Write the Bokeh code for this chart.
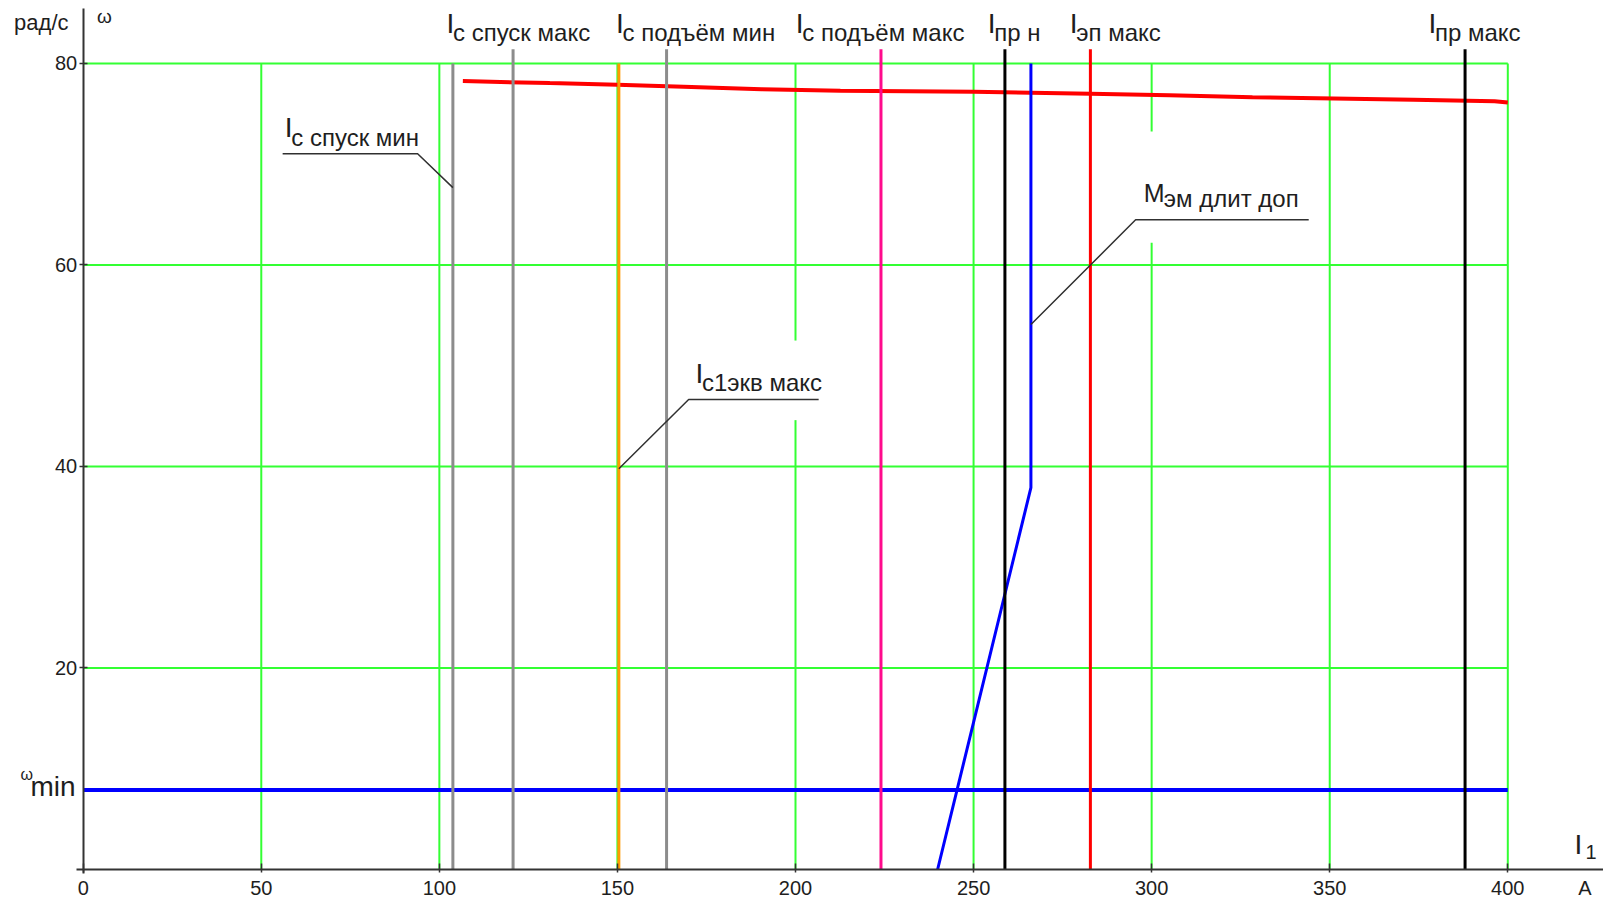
from bokeh.plotting import figure
from bokeh.models import Range1d, FixedTicker, Label
from bokeh.embed import file_html
from bokeh.resources import INLINE

# ---------------- data ----------------
x_ticks = [0, 50, 100, 150, 200, 250, 300, 350, 400]
y_ticks = [20, 40, 60, 80]
grid_x = [50, 100, 150, 200, 250, 300, 350, 400]
grid_y = [20, 40, 60, 80]
x_max = 400
y_max = 80

# motor characteristic omega(I1)
curve_I = [106.6, 131.0, 150.0, 168.6, 190.5, 212.6, 250.0, 282.8, 305.0, 328.3, 373.5, 396.3, 400.0]
curve_w = [78.25, 78.05, 77.9, 77.7, 77.45, 77.3, 77.2, 77.0, 76.85, 76.65, 76.4, 76.25, 76.12]

# minimal speed
omega_min = 7.9

# M эм длит доп boundary
mem_I = [239.9, 266.1, 266.1]
mem_w = [0.0, 37.9, 80.0]

# vertical current markers
marker_names = ["с спуск мин", "с спуск макс", "с1экв макс", "с подъём мин",
                "с подъём макс", "пр н", "эп макс", "пр макс"]
marker_I = [103.8, 120.7, 150.4, 163.8, 224.0, 258.8, 282.8, 388.0]

# ---------------- styles ----------------
marker_colors = ["#8c8c8c", "#8c8c8c", "#ff9900", "#8c8c8c",
                 "#ff0a8c", "#000000", "#ff0000", "#000000"]
marker_tops = [80, 81.4, 80, 81.4, 81.4, 81.4, 81.4, 81.4]

GREEN = "#33ff33"
TXT = "#1e1e1e"
AX = "#333333"
REG = "Liberation Sans"
SHIFT = 10  # px, baseline correction for labels

p = figure(width=1603, height=905,
           x_range=Range1d(-23.22, 426.87), y_range=Range1d(-3.573, 86.25),
           output_backend="svg", toolbar_location=None,
           min_border_left=0, min_border_right=0, min_border_top=0,
           min_border_bottom=0)
p.title.visible = False
p.outline_line_color = None
p.xgrid.visible = False
p.ygrid.visible = False
p.background_fill_color = "white"
p.border_fill_color = "white"

for ax, ticks in ((p.xaxis, x_ticks), (p.yaxis, y_ticks)):
    ax.ticker = FixedTicker(ticks=ticks)
    ax.fixed_location = 0
    ax.minor_tick_line_color = None
    ax.axis_line_color = AX
    ax.axis_line_width = 2
    ax.major_tick_line_color = AX
    ax.major_tick_line_width = 1.5
    ax.major_label_text_font = REG
    ax.major_label_text_font_size = "20px"
    ax.major_label_text_color = TXT
p.xaxis.bounds = (-1.97, 426.87)
p.yaxis.bounds = (-0.4, 85.46)
p.xaxis.major_tick_in = 6
p.xaxis.major_tick_out = 3
p.xaxis.major_label_standoff = 8
p.yaxis.major_tick_in = 4
p.yaxis.major_tick_out = 4
p.yaxis.major_label_standoff = 2

# green grid (segments bounded by the data box)
p.segment(x0=grid_x, y0=[0] * len(grid_x), x1=grid_x, y1=[y_max] * len(grid_x),
          line_color=GREEN, line_width=2)
p.segment(x0=[0] * len(grid_y), y0=grid_y, x1=[x_max] * len(grid_y), y1=grid_y,
          line_color=GREEN, line_width=2)
# label background cut-outs in the grid
p.quad(left=[198.8, 298.8], right=[201.2, 301.2], bottom=[44.6, 62.2], top=[52.5, 73.25],
       fill_color="white", line_color=None)

# motor curve
p.line(curve_I, curve_w, line_color="#ff0000", line_width=4)
# omega_min
p.line([0, x_max], [omega_min, omega_min], line_color="#0000ff", line_width=4)
# M эм длит доп
p.line(mem_I, mem_w, line_color="#0000ff", line_width=3)
# markers
p.segment(x0=marker_I, y0=[0] * len(marker_I), x1=marker_I, y1=marker_tops,
          line_color=marker_colors, line_width=3)

# leader lines
lead = dict(line_color="#303030", line_width=1.5)
p.line([56.0, 93.9, 103.8], [71.04, 71.04, 67.68], **lead)
p.line([150.4, 170.0, 206.5], [39.77, 46.65, 46.65], **lead)
p.line([266.1, 295.5, 344.1], [54.09, 64.48, 64.48], **lead)


def lab(x, y, text, size, dx=0, dy=0):
    p.add_layout(Label(x=x, y=y, text=text, x_offset=dx, y_offset=dy + SHIFT,
                       text_font=REG, text_font_size=f"{size}px",
                       text_color=TXT, text_baseline="alphabetic",
                       text_align="left"))


# top marker labels
top_idx = [1, 3, 4, 5, 6, 7]
top_x = [102.0, 149.6, 200.1, 254.0, 277.0, 377.7]
for i, xx in zip(top_idx, top_x):
    lab(xx, 82.98, "I", 28)
    lab(xx, 82.98, marker_names[i], 24, dx=6.5, dy=-9)

# leader labels
lab(56.6, 72.68, "I", 28)
lab(56.6, 72.68, marker_names[0], 24, dx=6.5, dy=-10)
lab(171.9, 48.21, "I", 28)
lab(171.9, 48.21, marker_names[2], 24, dx=6.5, dy=-9)
lab(297.8, 66.13, "M", 25)
lab(297.8, 66.13, "эм длит доп", 24, dx=20, dy=-5)

# axis captions
lab(-19.4, 83.1, "рад/с", 22)
lab(3.87, 83.63, "ω", 19)
lab(-17.6, 8.44, "ω", 16)
lab(-14.8, 7.25, "min", 28)
lab(418.7, 1.53, "I", 28)
lab(421.8, 0.72, "1", 20)
lab(419.8, -2.78, "A", 20)

open("out.html", "w").write(file_html(p, INLINE))
